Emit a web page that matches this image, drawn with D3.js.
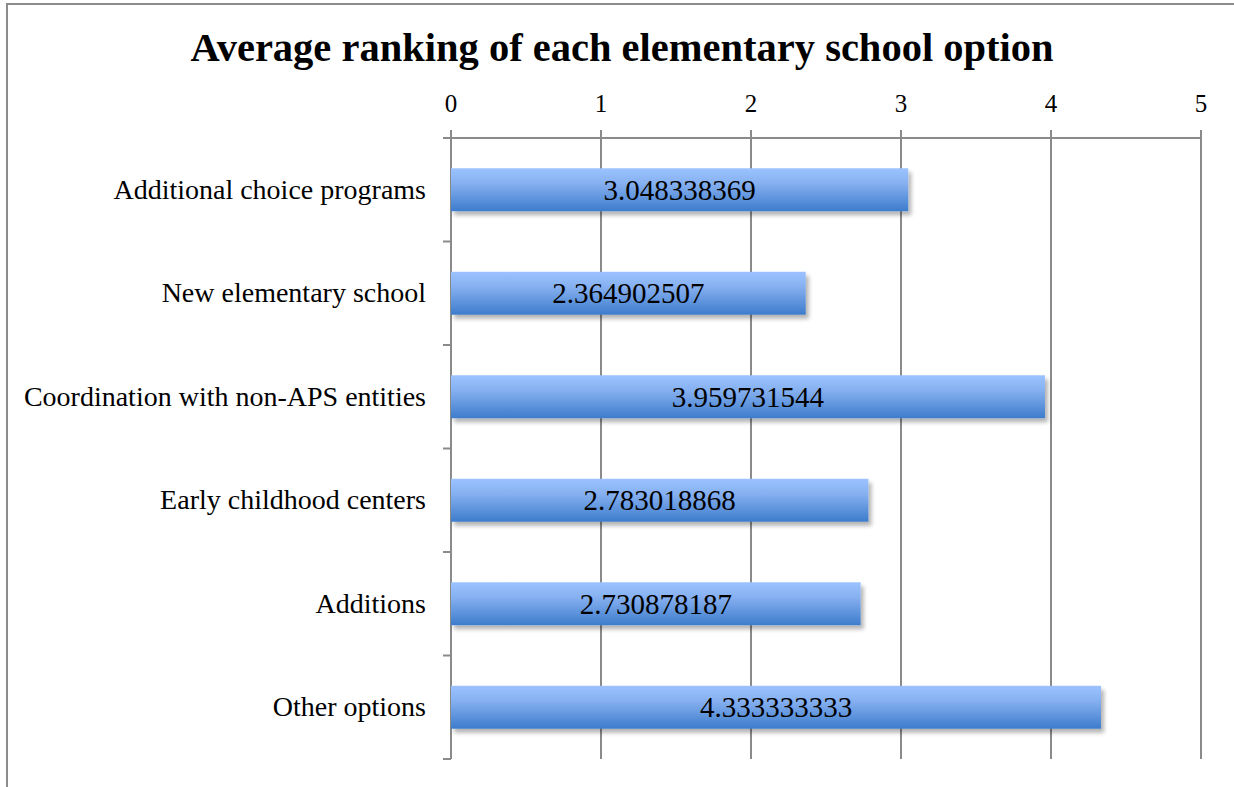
<!DOCTYPE html>
<html>
<head>
<meta charset="utf-8">
<script src="https://cdn.jsdelivr.net/npm/d3@7"></script>
<style>
  body { margin: 0; background: #fff; }
  text { font-family: "Liberation Serif", "DejaVu Serif", serif; fill: #000; }
</style>
</head>
<body>
<script>
'use strict';

// chart values
const categories = [
  "Additional choice programs",
  "New elementary school",
  "Coordination with non-APS entities",
  "Early childhood centers",
  "Additions",
  "Other options"
];
const values = [3.048338369, 2.364902507, 3.959731544, 2.783018868, 2.730878187, 4.333333333];
const valueLabels = ["3.048338369", "2.364902507", "3.959731544", "2.783018868", "2.730878187", "4.333333333"];
const xTicks = [0, 1, 2, 3, 4, 5];
const title = "Average ranking of each elementary school option";

(function() {
  const W = 1234, H = 787;
  const margin = {top: 138, left: 451, right: 33, bottom: 28};

  const svg = d3.select("body").append("svg")
    .attr("width", W)
    .attr("height", H);

  // outer frame (runs off right and bottom)
  svg.append("rect")
    .attr("x", 7).attr("y", 4)
    .attr("width", W + 20).attr("height", H + 20)
    .attr("fill", "#fff")
    .attr("stroke", "#8c8c8c")
    .attr("stroke-width", 2);

  const defs = svg.append("defs");
  const grad = defs.append("linearGradient")
    .attr("id", "barGrad")
    .attr("x1", 0).attr("y1", 0).attr("x2", 0).attr("y2", 1);
  grad.append("stop").attr("offset", "0%").attr("stop-color", "#9cc3ff");
  grad.append("stop").attr("offset", "35%").attr("stop-color", "#86b0f0");
  grad.append("stop").attr("offset", "100%").attr("stop-color", "#3d7ccc");

  const shadow = defs.append("filter")
    .attr("id", "shadow")
    .attr("x", "-5%").attr("y", "-20%").attr("width", "115%").attr("height", "160%");
  shadow.append("feGaussianBlur").attr("in", "SourceAlpha").attr("stdDeviation", 2.2).attr("result", "blur");
  shadow.append("feOffset").attr("in", "blur").attr("dx", 3).attr("dy", 4).attr("result", "off");
  shadow.append("feComponentTransfer").attr("in", "off").attr("result", "sh")
    .append("feFuncA").attr("type", "linear").attr("slope", 0.3);
  const merge = shadow.append("feMerge");
  merge.append("feMergeNode").attr("in", "sh");
  merge.append("feMergeNode").attr("in", "SourceGraphic");

  const x = d3.scaleLinear()
    .domain([0, 5])
    .range([margin.left, W - margin.right]);

  const y = d3.scaleBand()
    .domain(categories)
    .range([margin.top, H - margin.bottom])
    .paddingInner(0.585)
    .paddingOuter(0.2925);

  const yOuter = d3.scaleBand()
    .domain(categories)
    .range([margin.top, H - margin.bottom]);

  // title
  svg.append("text")
    .attr("x", 622)
    .attr("y", 61)
    .attr("text-anchor", "middle")
    .style("font-size", "40.5px")
    .style("font-weight", "bold")
    .text(title);

  // vertical gridlines
  svg.append("g")
    .selectAll("line")
    .data(xTicks)
    .enter().append("line")
      .attr("x1", (d) => x(d)).attr("x2", (d) => x(d))
      .attr("y1", margin.top - 8)
      .attr("y2", H - margin.bottom)
      .attr("stroke", "#8a8a8a")
      .attr("stroke-width", 2);

  // top axis line
  svg.append("line")
    .attr("x1", x(0) - 8).attr("x2", x(5))
    .attr("y1", margin.top).attr("y2", margin.top)
    .attr("stroke", "#8a8a8a")
    .attr("stroke-width", 2);

  // x tick labels
  svg.append("g")
    .selectAll("text")
    .data(xTicks)
    .enter().append("text")
      .attr("x", (d) => x(d))
      .attr("y", 112)
      .attr("text-anchor", "middle")
      .style("font-size", "25px")
      .text((d) => d);

  // category separators on left axis
  const bounds = categories.map((c) => yOuter(c)).concat([H - margin.bottom]);
  svg.append("g")
    .selectAll("line")
    .data(bounds.slice(1))
    .enter().append("line")
      .attr("x1", x(0) - 8).attr("x2", x(0))
      .attr("y1", (d) => d).attr("y2", (d) => d)
      .attr("stroke", "#8a8a8a")
      .attr("stroke-width", 2);

  // category labels
  svg.append("g")
    .selectAll("text")
    .data(categories)
    .enter().append("text")
      .attr("x", x(0) - 25)
      .attr("y", (d) => yOuter(d) + yOuter.bandwidth() / 2)
      .attr("dy", "0.33em")
      .attr("text-anchor", "end")
      .style("font-size", "28px")
      .text((d) => d);

  // bars
  svg.append("g")
    .selectAll("rect")
    .data(values)
    .enter().append("rect")
      .attr("x", x(0))
      .attr("y", (d, i) => y(categories[i]))
      .attr("width", (d) => x(d) - x(0))
      .attr("height", y.bandwidth())
      .attr("fill", "url(#barGrad)")
      .attr("filter", "url(#shadow)");

  // value labels
  svg.append("g")
    .selectAll("text")
    .data(values)
    .enter().append("text")
      .attr("x", (d) => (x(0) + x(d)) / 2)
      .attr("y", (d, i) => y(categories[i]) + y.bandwidth() / 2)
      .attr("dy", "0.35em")
      .attr("text-anchor", "middle")
      .style("font-size", "29px")
      .text((d, i) => valueLabels[i]);
})();
</script>
</body>
</html>
